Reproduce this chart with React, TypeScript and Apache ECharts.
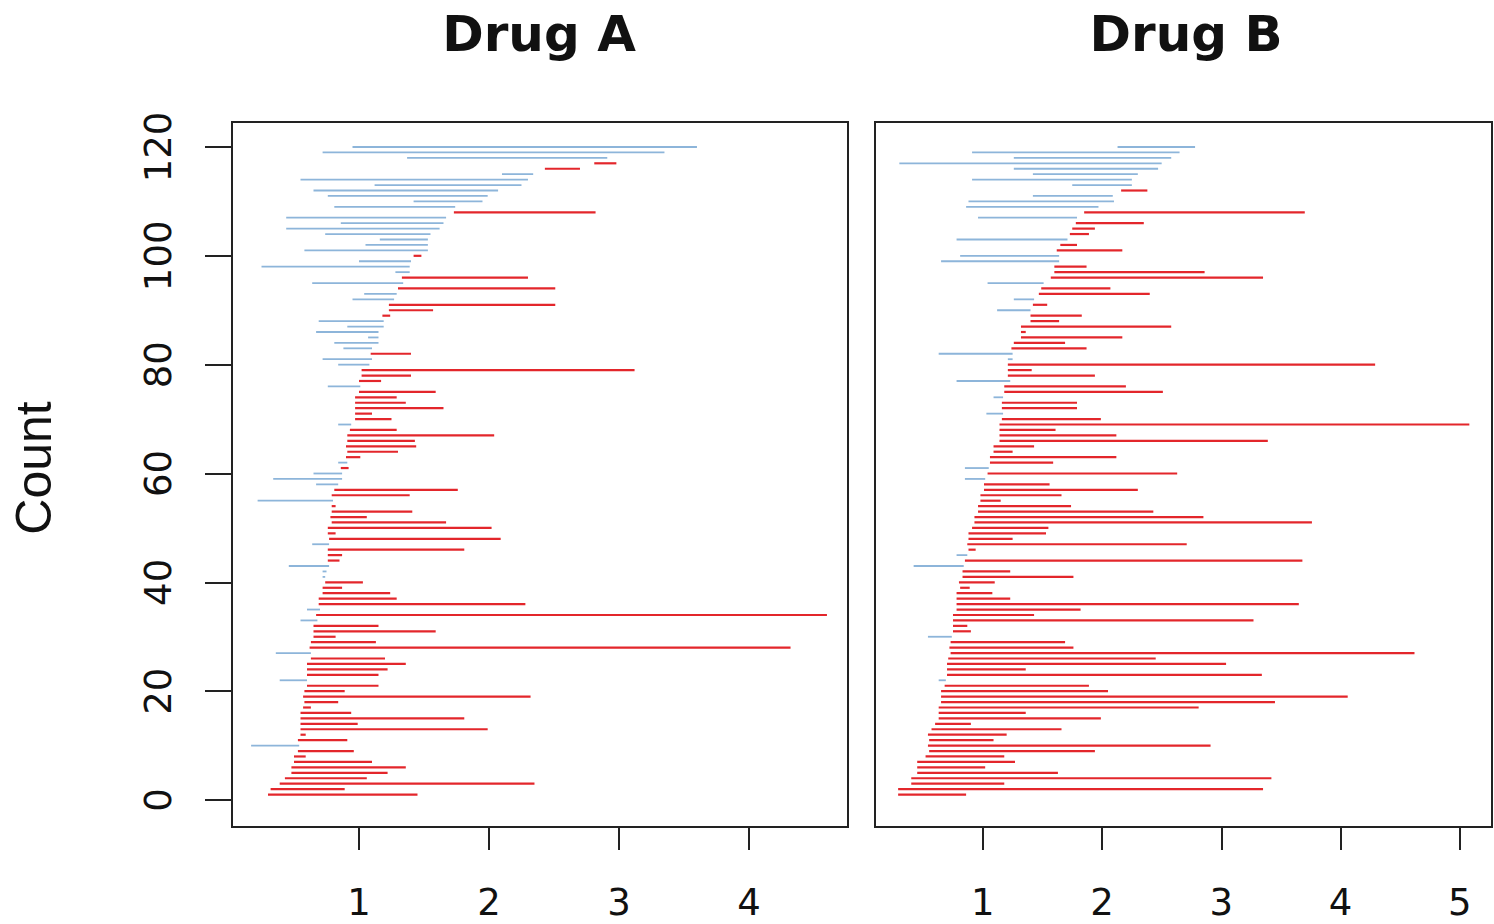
import React, { useEffect, useRef } from "react";
import * as echarts from "echarts";

const TITLES = ["Drug A", "Drug B"];
const Y_NAME = "Count";
const Y_TICKS = [0, 20, 40, 60, 80, 100, 120];
const X_TICKS_A = [1, 2, 3, 4];
const X_TICKS_B = [1, 2, 3, 4, 5];

// Rows listed from the top (count 120) down to the bottom (count 1)
const A_START = [
  0.95, 0.72, 1.37, 2.81, 2.43, 2.10, 0.55, 1.12, 0.65, 0.76, 1.42, 0.81, 1.73, 0.44, 0.86, 0.44, 0.74, 1.16, 1.05, 0.58, 1.42, 1.00, 0.25, 1.28,
  1.33, 0.64, 1.30, 1.04, 0.95, 1.23, 1.23, 1.18, 0.69, 0.91, 0.67, 1.07, 0.81, 0.88, 1.09, 0.72, 0.84, 1.02, 1.02, 1.00, 0.76, 1.00, 0.97, 0.97, 0.97,
  0.97, 0.97, 0.84, 0.93, 0.91, 0.91, 0.90, 0.91, 0.90, 0.84, 0.86, 0.65, 0.34, 0.67, 0.81, 0.79, 0.22, 0.79, 0.79, 0.78, 0.79, 0.76, 0.76, 0.77, 0.64,
  0.76, 0.76, 0.76, 0.46, 0.72, 0.72, 0.74, 0.72, 0.72, 0.69, 0.69, 0.60, 0.67, 0.55, 0.65, 0.65, 0.65, 0.63, 0.62, 0.36, 0.63, 0.60, 0.60, 0.60,
  0.39, 0.60, 0.58, 0.57, 0.58, 0.57, 0.55, 0.55, 0.55, 0.55, 0.55, 0.53, 0.17, 0.53, 0.50, 0.50, 0.48, 0.48, 0.43, 0.39, 0.32, 0.30,
];
const A_END = [
  3.60, 3.35, 2.91, 2.98, 2.70, 2.34, 2.30, 2.25, 2.07, 1.99, 1.95, 1.74, 2.82, 1.67, 1.65, 1.62, 1.55, 1.53, 1.53, 1.53, 1.48, 1.40, 1.39, 1.39,
  2.30, 1.34, 2.51, 1.29, 1.27, 2.51, 1.57, 1.24, 1.19, 1.19, 1.15, 1.15, 1.15, 1.10, 1.40, 1.10, 1.08, 3.12, 1.40, 1.17, 1.01, 1.59, 1.29, 1.36, 1.65,
  1.10, 1.25, 0.94, 1.29, 2.04, 1.43, 1.44, 1.30, 1.01, 0.91, 0.92, 0.87, 0.87, 0.84, 1.76, 1.39, 0.80, 0.82, 1.41, 1.06, 1.67, 2.02, 0.82, 2.09, 0.77,
  1.81, 0.87, 0.85, 0.77, 0.75, 0.74, 1.03, 0.87, 1.24, 1.29, 2.28, 0.70, 4.60, 0.68, 1.15, 1.59, 0.82, 1.13, 4.32, 0.63, 1.20, 1.36, 1.22, 1.15,
  0.60, 1.15, 0.89, 2.32, 0.84, 0.63, 0.94, 1.81, 0.99, 1.99, 0.59, 0.91, 0.54, 0.96, 0.59, 1.10, 1.36, 1.22, 1.06, 2.35, 0.89, 1.45,
];
const A_GROUP = (
  "bbbrrbbbbbbbrbbbbbbbrbbb" +
  "rbrbbrrrbbbbbbrbbrrrbrrrr" +
  "rrbrrrrrrbrbbbrrbrrrrrrrb" +
  "rrrbbbrrrrrbrbrrrrrbrrrr" +
  "brrrrrrrrrrrbrrrrrrrrr"
).split("");

const B_START = [
  2.13, 0.91, 1.26, 0.30, 1.26, 1.42, 0.91, 1.75, 2.16, 1.42, 0.88, 0.86, 1.85, 0.96, 1.78, 1.75, 1.73, 0.78, 1.65, 1.62, 0.81, 0.65, 1.60, 1.60,
  1.57, 1.04, 1.49, 1.47, 1.26, 1.42, 1.12, 1.40, 1.40, 1.32, 1.32, 1.32, 1.26, 1.24, 0.63, 1.21, 1.21, 1.21, 1.21, 0.78, 1.18, 1.18, 1.09, 1.16, 1.16,
  1.03, 1.16, 1.14, 1.14, 1.14, 1.14, 1.09, 1.09, 1.06, 1.06, 0.85, 1.04, 0.85, 1.01, 1.01, 0.98, 0.98, 0.96, 0.96, 0.93, 0.93, 0.91, 0.88, 0.88, 0.87,
  0.88, 0.78, 0.85, 0.42, 0.83, 0.83, 0.80, 0.81, 0.78, 0.78, 0.78, 0.78, 0.75, 0.75, 0.75, 0.75, 0.54, 0.73, 0.72, 0.73, 0.71, 0.70, 0.70, 0.70,
  0.63, 0.68, 0.65, 0.65, 0.65, 0.63, 0.63, 0.63, 0.60, 0.57, 0.54, 0.55, 0.54, 0.55, 0.52, 0.45, 0.45, 0.45, 0.40, 0.40, 0.29, 0.29,
];
const B_END = [
  2.78, 2.65, 2.58, 2.50, 2.47, 2.30, 2.25, 2.25, 2.38, 2.09, 2.10, 1.97, 3.70, 1.79, 2.35, 1.94, 1.89, 1.71, 1.79, 2.17, 1.64, 1.64, 1.87, 2.86,
  3.35, 1.51, 2.07, 2.40, 1.43, 1.54, 1.40, 1.83, 1.64, 2.58, 1.36, 2.17, 1.69, 1.87, 1.25, 1.25, 4.29, 1.41, 1.94, 1.23, 2.20, 2.51, 1.17, 1.79, 1.79,
  1.17, 1.99, 5.08, 1.61, 2.12, 3.39, 1.43, 1.25, 2.12, 1.59, 1.05, 2.63, 1.02, 1.56, 2.30, 1.66, 1.15, 1.74, 2.43, 2.85, 3.76, 1.55, 1.53, 1.25, 2.71,
  0.94, 0.87, 3.68, 0.84, 1.23, 1.76, 1.10, 0.89, 1.08, 1.23, 3.65, 1.82, 1.43, 3.27, 0.87, 0.90, 0.74, 1.69, 1.76, 4.62, 2.45, 3.04, 1.36, 3.34,
  0.69, 1.89, 2.05, 4.06, 3.45, 2.81, 1.36, 1.99, 0.90, 1.66, 1.20, 1.09, 2.91, 1.94, 1.18, 1.27, 1.02, 1.63, 3.42, 1.18, 3.35, 0.86,
];
const B_GROUP = (
  "bbbbbbbbrbbbrbrrrbrrbbrr" +
  "rbrrbrbrrrrrrrbbrrrbrrbrr" +
  "brrrrrrrrrbrbrrrrrrrrrrrr" +
  "rbrbrrrrrrrrrrrrbrrrrrrr" +
  "brrrrrrrrrrrrrrrrrrrrr"
).split("");

const RED = "#e3262b";
const BLUE = "#8db5da";
const FRAME = "#222222";

function rows(start: number[], end: number[], group: string[]) {
  return start.map((s, i) => [s, end[i], start.length - i, group[i] === "b" ? 1 : 0]);
}

function renderSeg(params: any, api: any) {
  const a = api.coord([api.value(0), api.value(2)]);
  const b = api.coord([api.value(1), api.value(2)]);
  const blue = api.value(3) === 1;
  return {
    type: "line",
    shape: { x1: a[0], y1: a[1], x2: b[0], y2: b[1] },
    style: { stroke: blue ? BLUE : RED, lineWidth: blue ? 1.8 : 2.2 },
  };
}

const tickFont = { fontFamily: "DejaVu Sans", fontSize: 37, color: "#111" };

function xAxis(gridIndex: number, min: number, max: number, ticks: number[]) {
  return {
    gridIndex,
    type: "value",
    min,
    max,
    axisLine: { show: true, onZero: false, lineStyle: { color: FRAME, width: 2 } },
    splitLine: { show: false },
    axisTick: { show: true, length: 23, lineStyle: { color: FRAME, width: 2 }, customValues: ticks },
    axisLabel: { ...tickFont, margin: 57, customValues: ticks },
  };
}

function yAxis(gridIndex: number, showLabels: boolean) {
  return {
    gridIndex,
    type: "value",
    min: -4.96,
    max: 124.59,
    axisLine: { show: showLabels, onZero: false, lineStyle: { color: FRAME, width: 2 } },
    splitLine: { show: false },
    axisTick: { show: showLabels, length: 27, lineStyle: { color: FRAME, width: 2 }, customValues: Y_TICKS },
    axisLabel: { show: showLabels, ...tickFont, rotate: 90, margin: 55, customValues: Y_TICKS },
  };
}

export default function App() {
  const ref = useRef<HTMLDivElement>(null);
  useEffect(() => {
    if (!ref.current) return;
    const chart = echarts.init(ref.current, undefined, { renderer: "svg" });
    chart.setOption({
      animation: false,
      backgroundColor: "#ffffff",
      grid: [
        { left: 232, top: 122, width: 616, height: 705, show: true, borderColor: FRAME, borderWidth: 2, backgroundColor: "transparent" },
        { left: 875, top: 122, width: 617, height: 705, show: true, borderColor: FRAME, borderWidth: 2, backgroundColor: "transparent" },
      ],
      xAxis: [xAxis(0, 0.023, 4.762, X_TICKS_A), xAxis(1, 0.096, 5.27, X_TICKS_B)],
      yAxis: [yAxis(0, true), yAxis(1, false)],
      series: [
        {
          type: "custom",
          xAxisIndex: 0,
          yAxisIndex: 0,
          renderItem: renderSeg,
          encode: { x: [0, 1], y: 2 },
          data: rows(A_START, A_END, A_GROUP),
        },
        {
          type: "custom",
          xAxisIndex: 1,
          yAxisIndex: 1,
          renderItem: renderSeg,
          encode: { x: [0, 1], y: 2 },
          data: rows(B_START, B_END, B_GROUP),
        },
      ],
      graphic: [
        {
          type: "text",
          x: 539,
          y: 34,
          style: { text: TITLES[0], fontFamily: "DejaVu Sans", fontWeight: "bold", fontSize: 50, fill: "#111", align: "center", verticalAlign: "middle" },
        },
        {
          type: "text",
          x: 1186,
          y: 34,
          style: { text: TITLES[1], fontFamily: "DejaVu Sans", fontWeight: "bold", fontSize: 50, fill: "#111", align: "center", verticalAlign: "middle" },
        },
        {
          type: "text",
          x: 34,
          y: 468,
          rotation: Math.PI / 2,
          style: { text: Y_NAME, fontFamily: "Liberation Sans", fontSize: 50, fill: "#111", align: "center", verticalAlign: "middle" },
        },
      ],
    });
    return () => chart.dispose();
  }, []);
  return (
    <div
      ref={ref}
      style={{ position: "fixed", left: 0, top: 0, width: 1494, height: 924, background: "#fff" }}
    />
  );
}
